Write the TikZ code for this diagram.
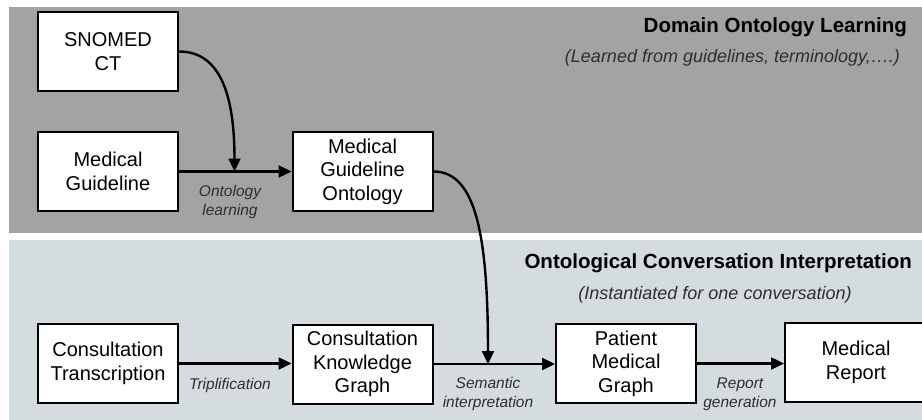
\documentclass[tikz,border=0pt]{standalone}
\usepackage{fontspec}
\setmainfont{Liberation Sans}
\usetikzlibrary{arrows.meta}
\definecolor{topgray}{HTML}{A3A3A3}
\definecolor{botgray}{HTML}{D5DCE0}
\definecolor{labgray}{HTML}{2E2E2E}
\tikzset{
  box/.style={draw=black, line width=2pt, fill=white, minimum width=140pt, minimum height=79pt,
    align=center, inner sep=0pt, font=\fontsize{20}{23.5}\selectfont},
  conn/.style={line width=2.4pt, -{Triangle[length=13pt,width=12pt]}},
  lab/.style={align=center, text=labgray, inner sep=0pt, font=\fontsize{15.5}{19}\selectfont\itshape},
  ttl/.style={inner sep=0pt, font=\fontsize{20.5}{23}\selectfont\bfseries},
  sub/.style={inner sep=0pt, text=labgray, font=\fontsize{18}{21}\selectfont\itshape}
}
\begin{document}
\begin{tikzpicture}[x=1pt,y=-1pt]
\useasboundingbox (0,0) rectangle (922,420);
\clip (0,0) rectangle (922,420);
\fill[topgray] (9,7) rectangle (922,233);
\fill[botgray] (9,240) rectangle (922,420);

\node[ttl, anchor=east] (t1) at (907,27) {Domain Ontology Learning};
\node[sub, anchor=east] (s1) at (900,58) {(Learned from guidelines, terminology,….)};
\node[ttl, anchor=east] (t2) at (912,263) {Ontological Conversation Interpretation};
\node[sub] (s2) at (715,295) {(Instantiated for one conversation)};

\node[box] (snomed) at (108,51.5) {SNOMED\\CT};
\node[box] (mg) at (108,171.5) {Medical\\Guideline};
\node[box] (mgo) at (362.5,171.5) {Medical\\Guideline\\Ontology};
\node[box] (ct) at (108,363.5) {Consultation\\Transcription};
\node[box] (ckg) at (362.5,364) {Consultation\\Knowledge\\Graph};
\node[box] (pmg) at (626,363.5) {Patient\\Medical\\Graph};
\node[box, minimum width=142pt] (mr) at (856,362.5) {Medical\\Report};

\coordinate (j1) at (234.5,171.5);
\coordinate (j2) at (488,364);

\draw[line width=2.4pt] (mg.east) -- (j1);
\draw[conn] (j1) -- (mgo.west);
\draw[conn] (snomed.east) .. controls +(42,0) and +(0,-75) .. (j1);

\draw[conn] (ct.east) -- (ckg.west |- ct.east);
\draw[line width=2.4pt] (ckg.east) -- (j2);
\draw[conn] (j2) -- (pmg.west |- j2);
\draw[conn] (mgo.east) .. controls +(42,0) and +(0,-130) .. (j2);
\draw[conn] (pmg.east) -- (mr.west |- pmg.east);

\node[lab] (l1) at (230,202) {Ontology\\learning};
\node[lab] (l2) at (230,385) {Triplification};
\node[lab] (l3) at (488,394) {Semantic\\interpretation};
\node[lab] (l4) at (740,394) {Report\\generation};
\end{tikzpicture}
\end{document}
